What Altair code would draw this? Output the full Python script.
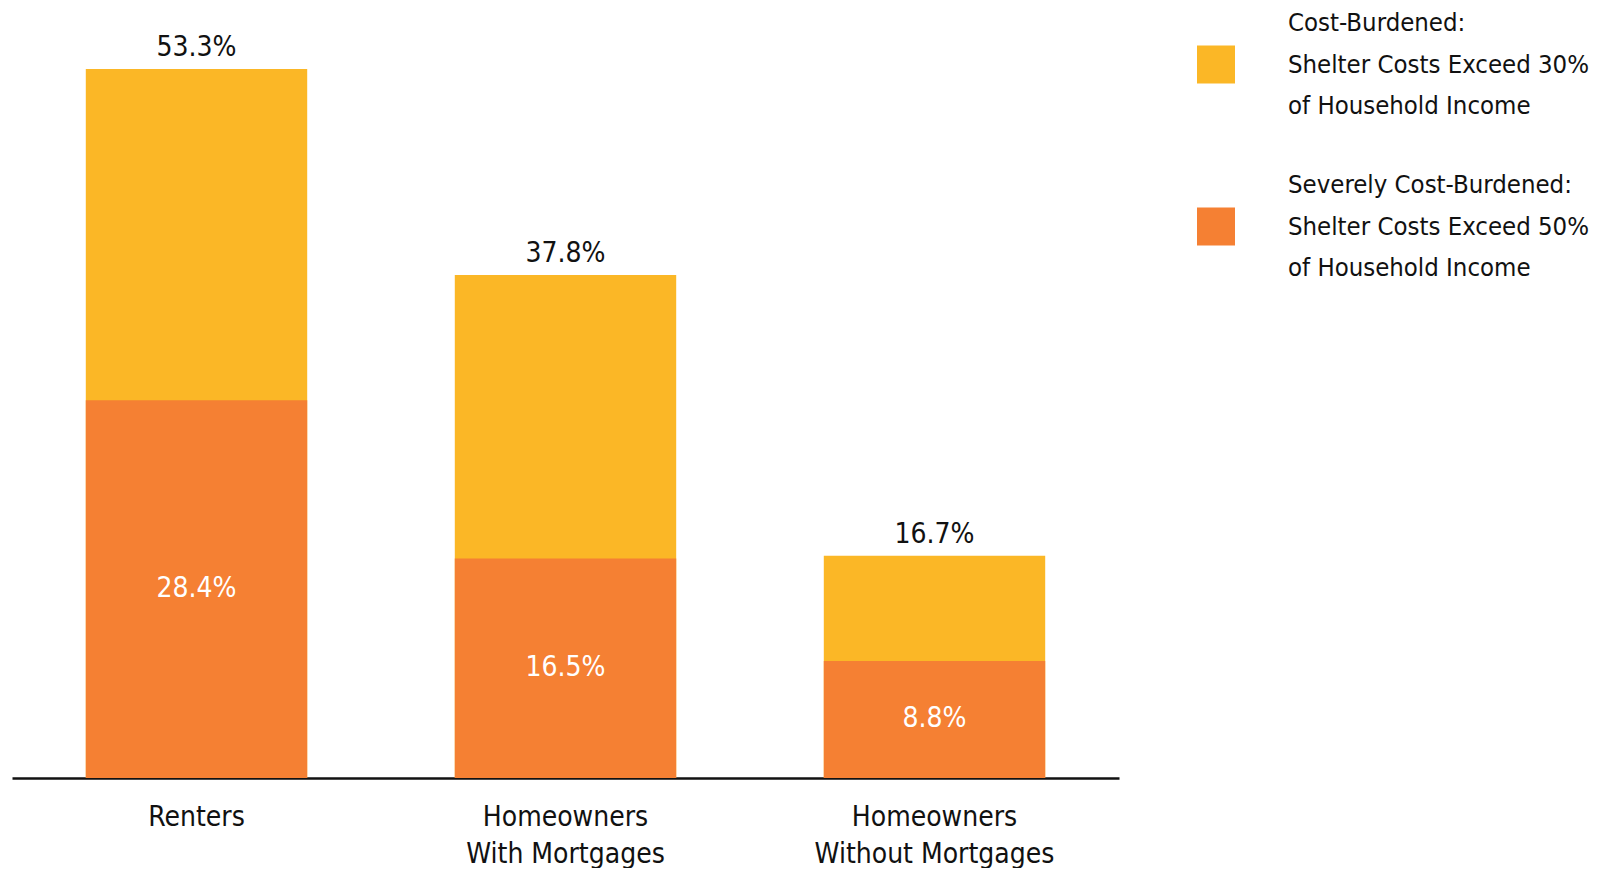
import altair as alt
import pandas as pd

categories = ["Renters", "Homeowners|With Mortgages", "Homeowners|Without Mortgages"]
total = [53.3, 37.8, 16.7]
severe = [28.4, 16.5, 8.8]
series = [
    "Cost-Burdened:|Shelter Costs Exceed 30%|of Household Income",
    "Severely Cost-Burdened:|Shelter Costs Exceed 50%|of Household Income",
]
colors = ["#FBB726", "#F58033"]

FONT = "DejaVu Sans Condensed, DejaVu Sans, sans-serif"
TXT = "#111111"
LEG_LH = 41.5

rows = []
for c, t in zip(categories, total):
    rows.append({"cat": c, "series": series[0], "value": t, "ord": 0})
for c, s in zip(categories, severe):
    rows.append({"cat": c, "series": series[1], "value": s, "ord": 1})
bars_df = pd.DataFrame(rows)
lab_df = pd.DataFrame({"cat": categories, "total": total, "severe": severe})

x = alt.X(
    "cat:N",
    sort=categories,
    scale=alt.Scale(paddingInner=0.4, paddingOuter=0.2),
    axis=alt.Axis(
        title=None,
        labelAngle=0,
        ticks=False,
        labelExpr="split(datum.label, '|')",
        labelFont=FONT,
        labelFontSize=28,
        labelColor=TXT,
        labelLineHeight=37,
        labelLimit=0,
        labelBaseline="alphabetic",
        labelPadding=47 + LEG_LH,
        domainColor=TXT,
        domainWidth=2.5,
        grid=False,
    ),
)
yscale = alt.Scale(domain=[0, 56.9], nice=False, zero=True)

bars = alt.Chart(bars_df).mark_bar().encode(
    x=x,
    y=alt.Y("value:Q", stack=None, scale=yscale, axis=None),
    color=alt.Color(
        "series:N",
        sort=series,
        scale=alt.Scale(domain=series, range=colors),
        legend=alt.Legend(
            title=None,
            orient="none",
            legendX=1185,
            legendY=24.5,
            padding=0,
            symbolType="square",
            symbolSize=1444,
            symbolStrokeWidth=0,
            labelExpr="split(datum.label, '|')",
            labelFont=FONT,
            labelFontSize=25.5,
            labelColor=TXT,
            labelLimit=0,
            labelOffset=53,
            rowPadding=53,
        ),
    ),
    order=alt.Order("ord:Q"),
)

top_labels = alt.Chart(lab_df).transform_calculate(
    lbl="format(datum.total, '.1f') + '%'"
).mark_text(
    baseline="alphabetic", dy=-13, font=FONT, fontSize=28, color=TXT
).encode(
    x=alt.X("cat:N", sort=categories),
    y=alt.Y("total:Q", scale=yscale),
    text="lbl:N",
)

inner_labels = alt.Chart(lab_df).transform_calculate(
    mid="datum.severe / 2", lbl="format(datum.severe, '.1f') + '%'"
).mark_text(baseline="middle", font=FONT, fontSize=28, color="white").encode(
    x=alt.X("cat:N", sort=categories),
    y=alt.Y("mid:Q", scale=yscale),
    text="lbl:N",
)

chart = (
    alt.layer(bars, top_labels, inner_labels)
    .properties(
        width=1107,
        height=757,
        autosize=alt.AutoSizeParams(type="none"),
        padding={"left": 4, "top": 13, "right": 472, "bottom": 90},
    )
    .configure(
        style={"guide-label": {"lineHeight": LEG_LH, "dy": -LEG_LH}},
        view=alt.ViewConfig(strokeWidth=0, stroke=None),
    )
)

chart.save("out.html", embed_options={"renderer": "svg", "actions": False})
